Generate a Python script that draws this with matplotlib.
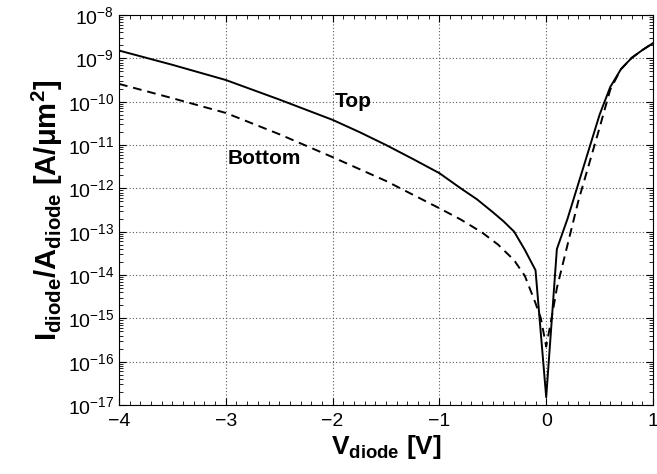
import matplotlib
matplotlib.use("Agg")
import matplotlib.pyplot as plt
import numpy as np
from matplotlib.ticker import LogLocator, MultipleLocator, NullFormatter

plt.rcParams["font.family"] = ["Liberation Sans", "DejaVu Sans"]
plt.rcParams["mathtext.fontset"] = "custom"
plt.rcParams["mathtext.rm"] = "Liberation Sans"
plt.rcParams["mathtext.bf"] = "Liberation Sans:bold"
plt.rcParams["mathtext.it"] = "Liberation Sans:italic"

# Data: log10 of diode current density [A/um^2] vs diode voltage [V]
v_top = [-4.0, -3.5, -3.0, -2.5, -2.0, -1.75, -1.5, -1.25, -1.0, -0.8, -0.65, -0.5, -0.4, -0.3, -0.2, -0.1,
         0.0, 0.1, 0.2, 0.3, 0.4, 0.5, 0.6, 0.7, 0.8, 0.9, 1.0]
log_top = [-8.82, -9.15, -9.50, -9.95, -10.42, -10.70, -11.0, -11.32, -11.65, -12.0, -12.25, -12.55, -12.76, -13.0, -13.42, -13.89,
           -16.82, -13.40, -12.70, -11.90, -11.10, -10.30, -9.66, -9.25, -8.99, -8.81, -8.65]

v_bot = [-4.0, -3.5, -3.0, -2.5, -2.0, -1.5, -1.0, -0.8, -0.6, -0.45, -0.3, -0.2, -0.1, -0.05,
         0.0, 0.05, 0.1, 0.2, 0.3, 0.4, 0.5, 0.6, 0.7, 0.8, 0.9, 1.0]
log_bot = [-9.59, -9.92, -10.26, -10.75, -11.28, -11.83, -12.46, -12.72, -13.02, -13.30, -13.66, -14.02, -14.65, -15.0,
           -15.65, -15.0, -14.30, -13.30, -12.30, -11.45, -10.60, -9.72, -9.25, -8.99, -8.81, -8.65]

i_top = 10.0 ** np.array(log_top)
i_bot = 10.0 ** np.array(log_bot)

fig = plt.figure(figsize=(6.57, 4.74), dpi=100)
ax = fig.add_axes([119 / 657, 1 - 405 / 474, (653 - 119) / 657, (405 - 15) / 474])

ax.semilogy(v_top, i_top, color="black", linestyle="-", linewidth=1.4)
ax.semilogy(v_bot, i_bot, color="black", linestyle=(0, (4.5, 3)), linewidth=1.4)

ax.text(-1.81, 1.0e-10, "Top", fontsize=15, fontweight="bold", ha="center", va="center")
ax.text(-2.64, 10 ** -11.3, "Bottom", fontsize=15, fontweight="bold", ha="center", va="center")

ax.set_xlim(-4, 1)
ax.set_ylim(1e-17, 1e-8)
ax.set_xticks([-4, -3, -2, -1, 0, 1])
ax.xaxis.set_minor_locator(MultipleLocator(0.1))
ax.yaxis.set_major_locator(LogLocator(base=10, numticks=20))
ax.yaxis.set_minor_locator(LogLocator(base=10, subs=np.arange(2, 10), numticks=200))
ax.yaxis.set_minor_formatter(NullFormatter())

ax.tick_params(which="both", direction="in", top=True, right=True, labelsize=14)
ax.tick_params(axis="x", which="major", pad=6)
ax.tick_params(which="major", length=5, width=0.8)
ax.tick_params(which="minor", length=3, width=0.6)
ax.grid(which="major", linestyle=(0, (1, 2)), color="0.35", linewidth=0.8)

ax.set_xlabel(r"$\mathbf{V_{diode}}$ [V]", fontsize=19, fontweight="bold", labelpad=2)
ax.set_ylabel(r"$\mathbf{I_{diode}/A_{diode}}$ [A/μm$^\mathbf{2}$]", fontsize=21,
              fontweight="bold", labelpad=2)

fig.savefig("out.png", dpi=100)
